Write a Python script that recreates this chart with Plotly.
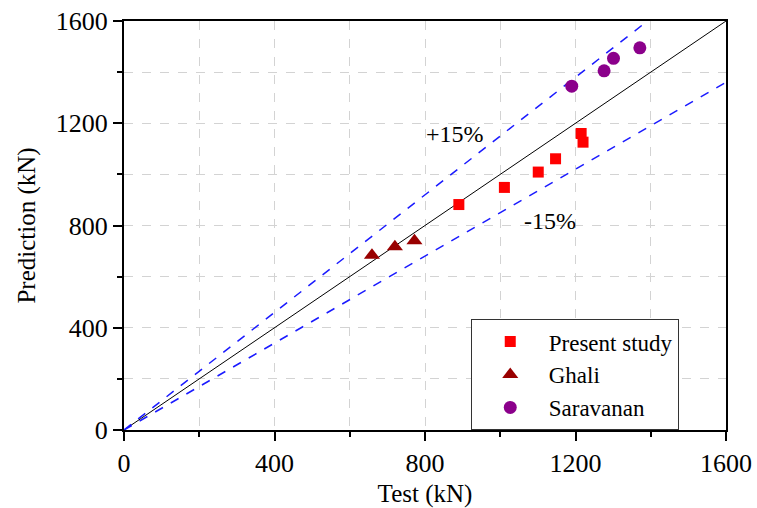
import plotly.graph_objects as go

# Data
present_test = [890, 1011, 1101, 1147, 1215, 1220]
present_pred = [882, 949, 1009, 1061, 1160, 1126]
ghali_test = [659, 720, 772]
ghali_pred = [684, 717, 740]
sara_test = [1190, 1276, 1301, 1371]
sara_pred = [1345, 1405, 1454, 1495]
line_x = [0, 1600]
tick_vals = [0, 400, 800, 1200, 1600]

FONT = "Liberation Serif, Times New Roman, serif"

fig = go.Figure()
fig.add_trace(go.Scatter(x=line_x, y=line_x, mode="lines",
                         line=dict(color="black", width=1), showlegend=False, hoverinfo="skip"))
fig.add_trace(go.Scatter(x=line_x, y=[v * 1.15 for v in line_x], mode="lines",
                         line=dict(color="#1a1aff", width=1.5, dash="dash"), showlegend=False, hoverinfo="skip"))
fig.add_trace(go.Scatter(x=line_x, y=[v * 0.85 for v in line_x], mode="lines",
                         line=dict(color="#1a1aff", width=1.5, dash="dash"), showlegend=False, hoverinfo="skip"))

fig.add_trace(go.Scatter(x=present_test, y=present_pred, mode="markers", name="Present study",
                         marker=dict(symbol="square", size=11, color="#ff0000")))
fig.add_trace(go.Scatter(x=ghali_test, y=ghali_pred, mode="markers", name="Ghali",
                         marker=dict(symbol="triangle-up", size=14, color="#990000")))
fig.add_trace(go.Scatter(x=sara_test, y=sara_pred, mode="markers", name="Saravanan",
                         marker=dict(symbol="circle", size=13, color="#8b008b")))

fig.add_annotation(x=880, y=1157, text="+15%", showarrow=False,
                   font=dict(family=FONT, size=24, color="black"))
fig.add_annotation(x=1132, y=817, text="-15%", showarrow=False,
                   font=dict(family=FONT, size=24, color="black"))

axis_common = dict(
    range=[0, 1600], tickvals=tick_vals, ticks="outside", ticklen=9, tickwidth=1.5,
    tickcolor="black", showline=True, linecolor="black", linewidth=2, mirror=True,
    showgrid=True, gridcolor="#d3d3d3", griddash="dash", gridwidth=1,
    zeroline=False, tickfont=dict(family=FONT, size=26, color="black"),
    ticklabeloverflow="allow",
    minor=dict(dtick=200, ticks="outside", ticklen=5, tickcolor="black",
               showgrid=True, gridcolor="#d3d3d3", griddash="dash"),
    automargin=False,
)

fig.update_xaxes(**axis_common, title=dict(text="Test (kN)", font=dict(family=FONT, size=25, color="black"), standoff=14))
fig.update_yaxes(**axis_common, title=dict(text="Prediction (kN)", font=dict(family=FONT, size=25, color="black"), standoff=13))

fig.update_layout(
    width=757, height=508,
    margin=dict(l=124, r=31, t=21, b=78),
    plot_bgcolor="white", paper_bgcolor="white",
    legend=dict(x=0.576, y=0.271, xanchor="left", yanchor="top",
                bordercolor="#333333", borderwidth=1, bgcolor="white",
                font=dict(family=FONT, size=23, color="black"),
                itemwidth=67, tracegroupgap=0),
)

fig.write_html("out.html", config={"displayModeBar": False},
               post_script="document.body.style.margin='0';")
